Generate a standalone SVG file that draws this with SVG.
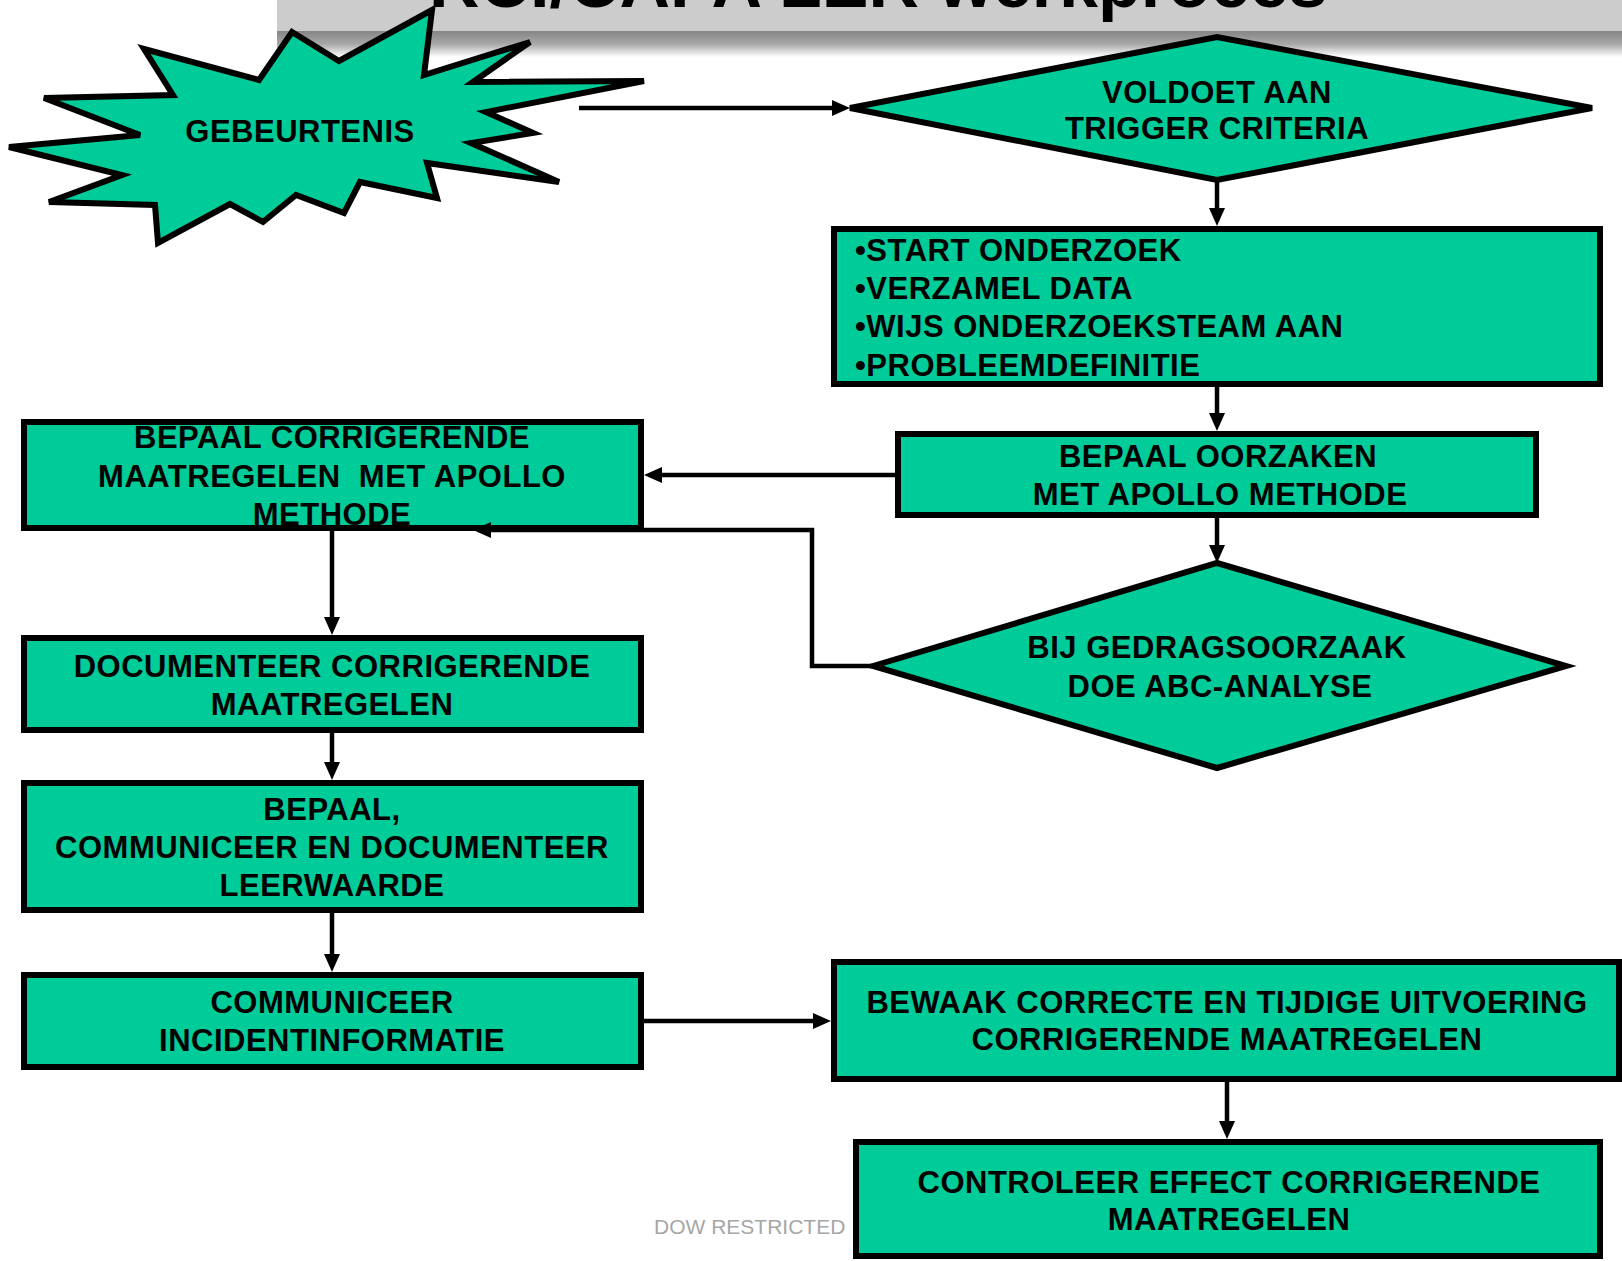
<svg xmlns="http://www.w3.org/2000/svg" width="1622" height="1261" viewBox="0 0 1622 1261">
<defs>
<linearGradient id="shadow" x1="0" y1="0" x2="0" y2="1">
<stop offset="0" stop-color="#858585"/>
<stop offset="0.5" stop-color="#a8a8a8"/>
<stop offset="1" stop-color="#ffffff"/>
</linearGradient>
<marker id="arrow" viewBox="0 0 18 16" refX="8" refY="8" markerWidth="18" markerHeight="16" markerUnits="userSpaceOnUse" orient="auto">
<path d="M0,0 L18,8 L0,16 z" fill="#000"/>
</marker>
<style>
.shape{fill:#00CC99;stroke:#000;stroke-width:6;stroke-linejoin:miter}
.lbl{font-family:"Liberation Sans",Arial,sans-serif;font-weight:bold;font-size:31px;letter-spacing:0.5px;fill:#000;text-anchor:middle}
.lft{text-anchor:start}
.conn{fill:none;stroke:#000;stroke-width:4.5;marker-end:url(#arrow)}
</style>
</defs>
<rect width="1622" height="1261" fill="#fff"/>
<g id="title">
<rect x="277" y="0" width="1345" height="31" fill="#cccccc"/>
<rect x="277" y="31" width="1345" height="26" fill="url(#shadow)"/>
<text x="429" y="6.5" style="font-family:'Liberation Sans',Arial,sans-serif;font-weight:bold;font-size:70px;fill:#000">RCI/CAPA LER werkproces</text>
</g>
<g id="gebeurtenis">
<polygon class="shape" points="432,10 424,75 530,42 473,82 644,81 486,112 533,133 471,143 559,182 427,163 437,198 360,182 344,213 296,195 263,222 230,204 158,243 155,205 49,202 122,175 9,147 140,135 44,98 173,95 144,49 259,80 292,32 339,61"/>
<text class="lbl" x="300" y="142">GEBEURTENIS</text>
</g>
<g id="trigger">
<polygon class="shape" points="850,108 1217,37 1592,108 1217,180"/>
<text class="lbl" x="1217" y="103">VOLDOET AAN</text>
<text class="lbl" x="1217" y="139">TRIGGER CRITERIA</text>
</g>
<g id="onderzoek">
<rect class="shape" x="834" y="229" width="766" height="155"/>
<text class="lbl lft" x="855" y="261">•START ONDERZOEK</text>
<text class="lbl lft" x="855" y="299">•VERZAMEL DATA</text>
<text class="lbl lft" x="855" y="337">•WIJS ONDERZOEKSTEAM AAN</text>
<text class="lbl lft" x="855" y="376">•PROBLEEMDEFINITIE</text>
</g>
<g id="oorzaken">
<rect class="shape" x="898" y="434" width="638" height="81"/>
<text class="lbl" x="1218" y="467">BEPAAL OORZAKEN</text>
<text class="lbl" x="1220" y="505">MET APOLLO METHODE</text>
</g>
<g id="abc">
<polygon class="shape" points="873,666 1217,563 1566,666 1217,768"/>
<text class="lbl" x="1217" y="658">BIJ GEDRAGSOORZAAK</text>
<text class="lbl" x="1220" y="697">DOE ABC-ANALYSE</text>
</g>
<g id="bepaal-maatregelen">
<rect class="shape" x="24" y="422" width="617" height="106"/>
<text class="lbl" x="332" y="448">BEPAAL CORRIGERENDE</text>
<text class="lbl" x="332" y="487" xml:space="preserve">MAATREGELEN  MET APOLLO</text>
<text class="lbl" x="332" y="525">METHODE</text>
</g>
<g id="documenteer">
<rect class="shape" x="24" y="638" width="617" height="92"/>
<text class="lbl" x="332" y="677">DOCUMENTEER CORRIGERENDE</text>
<text class="lbl" x="332" y="715">MAATREGELEN</text>
</g>
<g id="leerwaarde">
<rect class="shape" x="24" y="783" width="617" height="127"/>
<text class="lbl" x="332" y="820">BEPAAL,</text>
<text class="lbl" x="332" y="858">COMMUNICEER EN DOCUMENTEER</text>
<text class="lbl" x="332" y="896">LEERWAARDE</text>
</g>
<g id="communiceer">
<rect class="shape" x="24" y="975" width="617" height="92"/>
<text class="lbl" x="332" y="1013">COMMUNICEER</text>
<text class="lbl" x="332" y="1051">INCIDENTINFORMATIE</text>
</g>
<g id="bewaak">
<rect class="shape" x="834" y="962" width="785" height="117"/>
<text class="lbl" x="1227" y="1013">BEWAAK CORRECTE EN TIJDIGE UITVOERING</text>
<text class="lbl" x="1227" y="1050">CORRIGERENDE MAATREGELEN</text>
</g>
<g id="controleer">
<rect class="shape" x="856" y="1142" width="744" height="114"/>
<text class="lbl" x="1229" y="1193">CONTROLEER EFFECT CORRIGERENDE</text>
<text class="lbl" x="1229" y="1230">MAATREGELEN</text>
</g>
<g id="connectors">
<path class="conn" d="M579,108 H840"/>
<path class="conn" d="M1217,180 V216"/>
<path class="conn" d="M1217,387 V421"/>
<path class="conn" d="M895,475 H654"/>
<path class="conn" d="M1217,518 V553"/>
<path class="conn" d="M873,666 H812 V530 H483"/>
<path class="conn" d="M332,531 V625"/>
<path class="conn" d="M332,733 V770"/>
<path class="conn" d="M332,913 V962"/>
<path class="conn" d="M644,1021 H821"/>
<path class="conn" d="M1227,1082 V1129"/>
</g>
<text x="654" y="1234" style="font-family:'Liberation Sans',Arial,sans-serif;font-size:21px;fill:#a6a6a6">DOW RESTRICTED</text>
</svg>
